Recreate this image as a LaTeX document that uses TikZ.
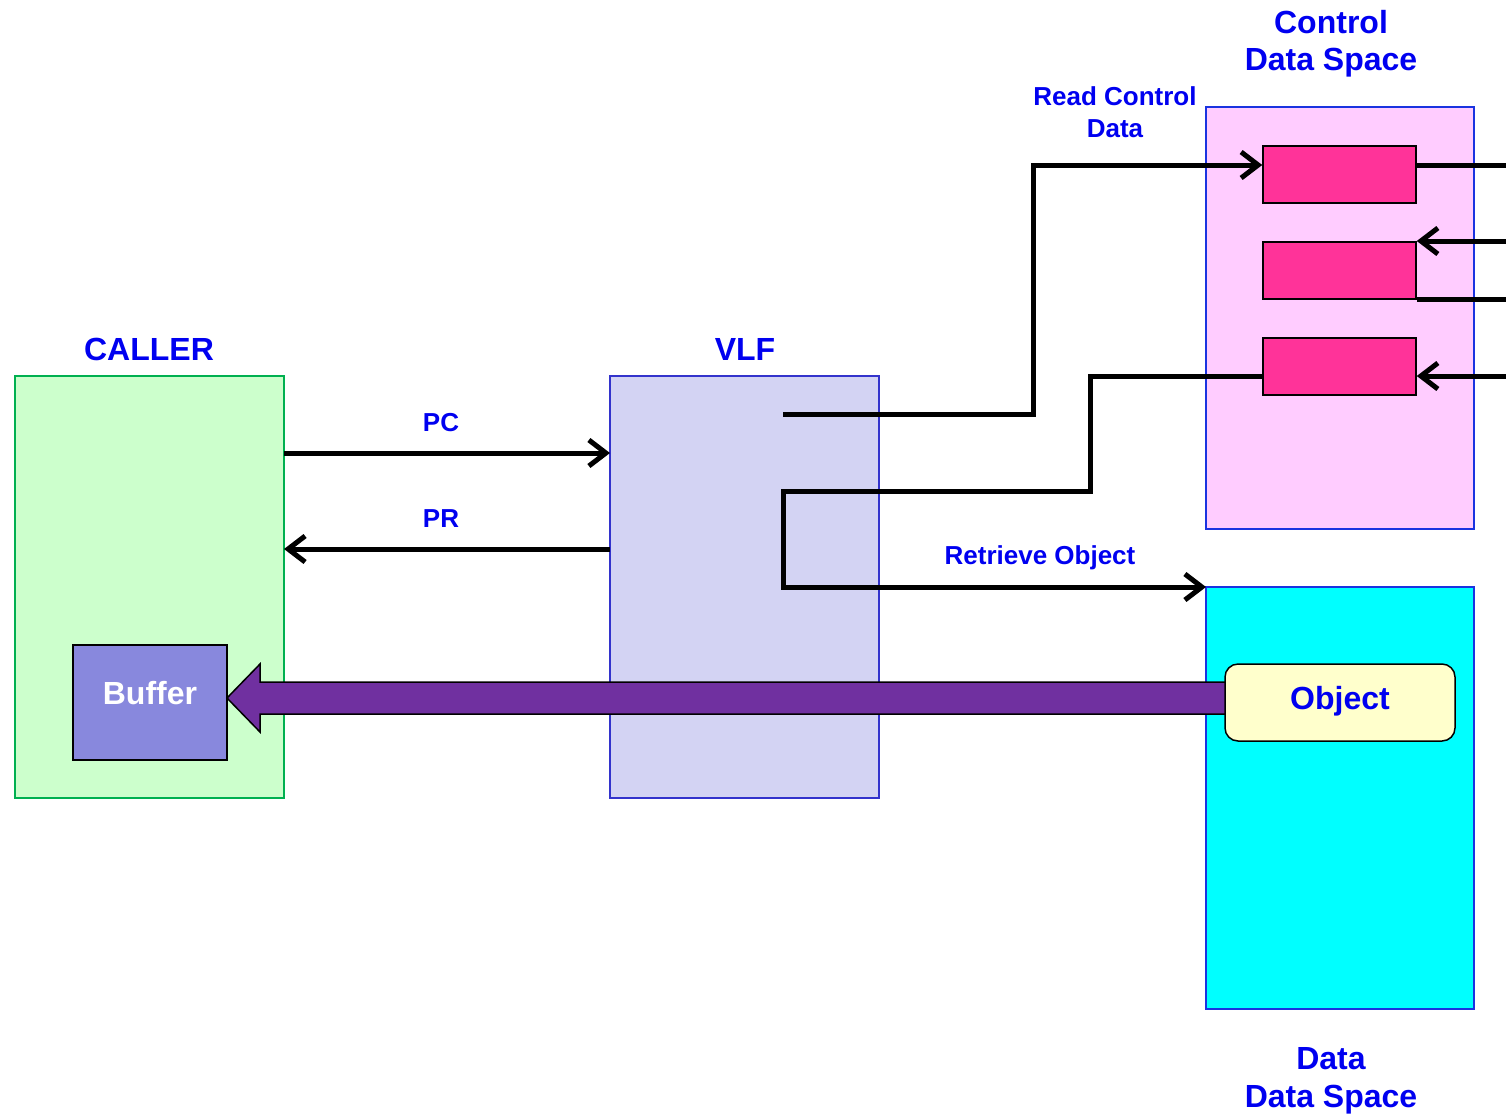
\documentclass[tikz,border=0pt]{standalone}
\usepackage{fontspec}
\setmainfont{Liberation Sans}
\usetikzlibrary{arrows.meta}
\definecolor{txtblue}{RGB}{0,0,240}
\definecolor{callerfill}{RGB}{204,255,204}
\definecolor{callerdraw}{RGB}{0,176,80}
\definecolor{vlffill}{RGB}{211,211,243}
\definecolor{vlfdraw}{RGB}{51,51,204}
\definecolor{cdsfill}{RGB}{255,204,255}
\definecolor{ddsfill}{RGB}{0,255,255}
\definecolor{spacedraw}{RGB}{26,51,224}
\definecolor{pinkbox}{RGB}{255,51,153}
\definecolor{bufferfill}{RGB}{136,136,221}
\definecolor{objfill}{RGB}{255,255,204}
\definecolor{bigarrow}{RGB}{112,48,160}
\begin{document}
\begin{tikzpicture}[x=1pt,y=-1pt,
  bigbox/.style={rectangle,inner sep=0pt,minimum width=269pt,minimum height=422pt,line width=1.5pt},
  pinkrec/.style={rectangle,draw=black,line width=1.5pt,fill=pinkbox,inner sep=0pt,minimum width=153pt,minimum height=57pt},
  lbl/.style={text=txtblue,font=\bfseries\fontsize{32}{38}\selectfont,anchor=base,inner sep=0pt},
  slbl/.style={text=txtblue,font=\bfseries\fontsize{26}{32}\selectfont,anchor=base,inner sep=0pt},
  conn/.style={line width=5pt},
  arr/.style={conn,-{Straight Barb[length=17pt,width=26pt,line width=5pt]}}
]
\useasboundingbox (0,0) rectangle (1506,1117);
% big boxes
\node[bigbox,draw=callerdraw,fill=callerfill] (caller) at (149.5,587) {};
\node[bigbox,draw=vlfdraw,fill=vlffill] (vlf) at (744.5,587) {};
\node[bigbox,minimum width=268pt,draw=spacedraw,fill=cdsfill] (cds) at (1340,318) {};
\node[bigbox,minimum width=268pt,draw=spacedraw,fill=ddsfill] (dds) at (1340,798) {};
% titles
\node[lbl] (callerlbl) at (149,360) {CALLER};
\node[lbl] (vlflbl) at (745,360) {VLF};
\node[lbl] (cdslbl1) at (1331,33) {Control};
\node[lbl] (cdslbl2) at (1331,70) {Data Space};
\node[lbl] (ddslbl1) at (1331,1069) {Data};
\node[lbl] (ddslbl2) at (1331,1107) {Data Space};
% pink records
\node[pinkrec] (p1) at (1339.5,174.5) {};
\node[pinkrec] (p2) at (1339.5,270.5) {};
\node[pinkrec] (p3) at (1339.5,366.5) {};
% buffer and object
\node[rectangle,draw=black,line width=1.5pt,fill=bufferfill,inner sep=0pt,minimum width=154pt,minimum height=115pt] (buffer) at (150,702.5) {};
\node[text=white,font=\bfseries\fontsize{32}{38}\selectfont,anchor=base,inner sep=0pt] (buftxt) at (150,704) {Buffer};
% big purple arrow
\draw[line width=1.5pt,fill=bigarrow] (1240,682) -- (260,682) -- (260,664) -- (227,698) -- (260,732) -- (260,714) -- (1240,714) -- cycle;
\node[rectangle,rounded corners=13pt,draw=black,line width=1.5pt,fill=objfill,inner sep=0pt,minimum width=230pt,minimum height=77pt] (object) at (1340,702.5) {};
\node[lbl] (objtxt) at (1340,709) {Object};
% PC / PR
\coordinate (pcs) at (284,453);
\coordinate (pce) at (610,453);
\coordinate (prs) at (610,549);
\coordinate (pre) at (284,549);
\draw[arr] (pcs) -- (pce);
\draw[arr] (prs) -- (pre);
\node[slbl] (pclbl) at (441,431) {PC};
\node[slbl] (prlbl) at (441,527) {PR};
% read control data
\coordinate (rcs) at (783,414);
\draw[arr] (rcs) -- (1033,414) -- (1033,165) -- (p1.west |- 0,165);
\node[slbl] (rclbl1) at (1115,105) {Read Control};
\node[slbl] (rclbl2) at (1115,137) {Data};
% retrieve object
\coordinate (ros) at (1263,376);
\coordinate (roe) at (1206,587);
\draw[arr] (ros) -- (1090,376) -- (1090,491) -- (783,491) -- (783,587) -- (roe);
\node[slbl] (rolbl) at (1040,564) {Retrieve Object};
% right side connectors
\coordinate (r1) at (1506,165);
\coordinate (r2) at (1506,241);
\coordinate (r3) at (1506,299);
\coordinate (r4) at (1506,376);
\draw[conn] (p1.east |- r1) -- (r1);
\draw[arr] (r2) -- (p2.east |- r2);
\draw[conn] (p2.east |- r3) -- (r3);
\draw[arr] (r4) -- (p3.east |- r4);
\end{tikzpicture}
\end{document}
